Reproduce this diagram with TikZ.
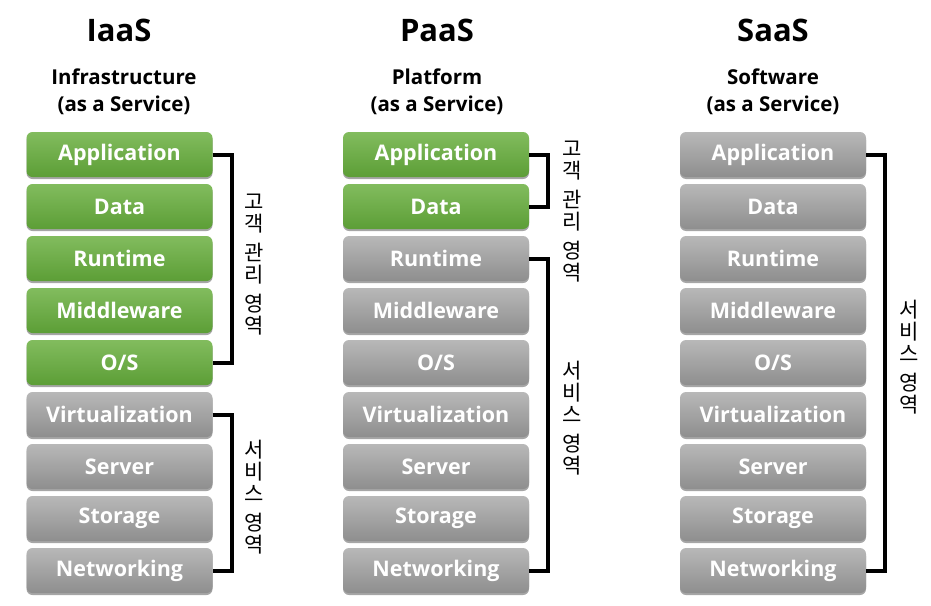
\documentclass[tikz,border=0pt]{standalone}
\usepackage{fontspec}
\setmainfont{Open Sans}
\newfontfamily\kr{Noto Sans CJK KR}
\usetikzlibrary{shadows}
\definecolor{gtop}{HTML}{82BC5E}
\definecolor{gbot}{HTML}{5C9E36}
\definecolor{ytop}{HTML}{B8B8B8}
\definecolor{ybot}{HTML}{8E8E8E}
\tikzset{
  box/.style={rounded corners=6pt, minimum width=186pt, minimum height=45pt, inner sep=0pt,
    text=white, font=\bfseries\fontsize{21.5}{24}\selectfont,
    drop shadow={shadow xshift=0pt, shadow yshift=-2pt, opacity=0.35, fill=black}},
  gbox/.style={box, top color=gtop, bottom color=gbot},
  ybox/.style={box, top color=ytop, bottom color=ybot},
  brk/.style={line width=4pt, draw=black},
  kor/.style={align=center, font=\kr\fontsize{21}{22}\selectfont, inner sep=0pt},
  ttl/.style={font=\bfseries\fontsize{31}{36}\selectfont},
  sub/.style={font=\bfseries\fontsize{20.5}{27}\selectfont, align=center}
}
\begin{document}
\begin{tikzpicture}[x=1pt,y=-1pt]
\useasboundingbox (0,0) rectangle (931,605);
% titles
\node[ttl] (t1) at (119,30) {IaaS};
\node[ttl] (t2) at (437,30) {PaaS};
\node[ttl] (t3) at (773,30) {SaaS};
\node[sub] (s1) at (124,92) {Infrastructure\\(as a Service)};
\node[sub] (s2) at (437,92) {Platform\\(as a Service)};
\node[sub] (s3) at (773,92) {Software\\(as a Service)};
% column 1
\node[gbox] (a1) at (119.5,154.5) {Application};
\node[gbox] (b1) at (119.5,206.5) {Data};
\node[gbox] (c1) at (119.5,258.5) {Runtime};
\node[gbox] (d1) at (119.5,310.5) {Middleware};
\node[gbox] (e1) at (119.5,362.5) {O/S};
\node[ybox] (f1) at (119.5,414.5) {Virtualization};
\node[ybox] (g1) at (119.5,466.5) {Server};
\node[ybox] (h1) at (119.5,518.5) {Storage};
\node[ybox] (i1) at (119.5,570.5) {Networking};
% column 2
\node[gbox] (a2) at (436,154.5) {Application};
\node[gbox] (b2) at (436,206.5) {Data};
\node[ybox] (c2) at (436,258.5) {Runtime};
\node[ybox] (d2) at (436,310.5) {Middleware};
\node[ybox] (e2) at (436,362.5) {O/S};
\node[ybox] (f2) at (436,414.5) {Virtualization};
\node[ybox] (g2) at (436,466.5) {Server};
\node[ybox] (h2) at (436,518.5) {Storage};
\node[ybox] (i2) at (436,570.5) {Networking};
% column 3
\node[ybox] (a3) at (773,154.5) {Application};
\node[ybox] (b3) at (773,206.5) {Data};
\node[ybox] (c3) at (773,258.5) {Runtime};
\node[ybox] (d3) at (773,310.5) {Middleware};
\node[ybox] (e3) at (773,362.5) {O/S};
\node[ybox] (f3) at (773,414.5) {Virtualization};
\node[ybox] (g3) at (773,466.5) {Server};
\node[ybox] (h3) at (773,518.5) {Storage};
\node[ybox] (i3) at (773,570.5) {Networking};
% brackets
\draw[brk] (a1.east) -- ++(19,0) |- (e1.east);
\draw[brk] (f1.east) -- ++(19,0) |- (i1.east);
\draw[brk] (a2.east) -- ++(19,0) |- (b2.east);
\draw[brk] (c2.east) -- ++(19,0) |- (i2.east);
\draw[brk] (a3.east) -- ++(19,0) |- (i3.east);
% korean labels
\node[kor] (k1) at (254,265) {고\\객\\[7pt]관\\리\\[7pt]영\\역};
\node[kor] (k2) at (254,497) {서\\비\\스\\[7pt]영\\역};
\node[kor] (k3) at (572,212) {고\\객\\[7pt]관\\리\\[7pt]영\\역};
\node[kor] (k4) at (572,418) {서\\비\\스\\[7pt]영\\역};
\node[kor] (k5) at (909,357) {서\\비\\스\\[7pt]영\\역};
\end{tikzpicture}
\end{document}
